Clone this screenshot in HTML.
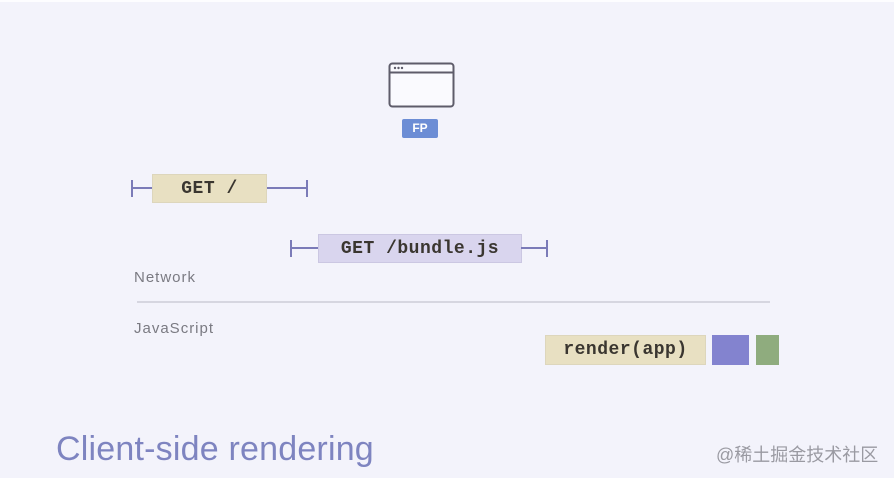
<!DOCTYPE html>
<html>
<head>
<meta charset="utf-8">
<style>
  html,body{margin:0;padding:0;}
  body{width:894px;height:478px;background:#f3f3fb;position:relative;overflow:hidden;font-family:"Liberation Sans",sans-serif;}
  .abs{position:absolute;}
  .box{position:absolute;box-sizing:border-box;font-family:"Liberation Mono",monospace;font-weight:bold;font-size:18px;letter-spacing:0.5px;color:#3a3630;display:flex;align-items:center;justify-content:center;}
  .hl{position:absolute;height:2px;background:#7b7bb8;}
  .vt{position:absolute;width:2px;background:#7b7bb8;}
</style>
</head>
<body>
<div class="abs" style="left:0;top:0;width:894px;height:2px;background:#fdfdff;"></div>

<!-- browser window icon -->
<svg class="abs" style="left:386px;top:60px;" width="72" height="52" viewBox="0 0 72 52">
  <rect x="3.5" y="3.5" width="64" height="43" rx="3" ry="3" fill="#fafafe" stroke="#5e5c6a" stroke-width="2"/>
  <line x1="3.5" y1="12.5" x2="67.5" y2="12.5" stroke="#5e5c6a" stroke-width="2"/>
  <circle cx="9" cy="8" r="1.2" fill="#5e5c6a"/>
  <circle cx="12.5" cy="8" r="1.2" fill="#5e5c6a"/>
  <circle cx="16" cy="8" r="1.2" fill="#5e5c6a"/>
</svg>

<!-- FP badge -->
<div class="abs" style="left:402px;top:119px;width:36px;height:19px;background:#6c8dd5;border-radius:2px;color:#fff;font-weight:bold;font-size:12px;line-height:19px;text-align:center;font-family:'Liberation Sans',sans-serif;">FP</div>

<!-- GET / -->
<div class="vt" style="left:131px;top:180px;height:17px;"></div>
<div class="hl" style="left:132px;top:187px;width:22px;"></div>
<div class="box" style="left:152px;top:174px;width:115px;height:29px;background:#e8e0c2;border:1px solid #ddd6bc;">GET /</div>
<div class="hl" style="left:267px;top:187px;width:40px;"></div>
<div class="vt" style="left:306px;top:180px;height:17px;"></div>

<!-- GET /bundle.js -->
<div class="vt" style="left:290px;top:240px;height:17px;"></div>
<div class="hl" style="left:291px;top:247px;width:28px;"></div>
<div class="box" style="left:318px;top:234px;width:204px;height:29px;background:#d9d5ee;border:1px solid #cbc7e2;">GET /bundle.js</div>
<div class="hl" style="left:521px;top:247px;width:26px;"></div>
<div class="vt" style="left:546px;top:240px;height:17px;"></div>

<!-- labels -->
<div class="abs" style="left:134px;top:269px;font-size:15px;letter-spacing:1px;color:#7a7a82;">Network</div>
<div class="abs" style="left:137px;top:301px;width:633px;height:2px;background:#d6d6e0;"></div>
<div class="abs" style="left:134px;top:320px;font-size:15px;letter-spacing:1px;color:#7a7a82;">JavaScript</div>

<!-- JS row -->
<div class="box" style="left:545px;top:335px;width:161px;height:30px;background:#e8e0c2;border:1px solid #ddd6bc;">render(app)</div>
<div class="abs" style="left:712px;top:335px;width:37px;height:30px;background:#8383cf;"></div>
<div class="abs" style="left:756px;top:335px;width:23px;height:30px;background:#8fac7e;"></div>

<!-- title -->
<div class="abs" style="left:56px;top:429px;font-size:34px;letter-spacing:0.2px;color:#7e84c0;white-space:nowrap;line-height:40px;">Client-side rendering</div>

<!-- watermark -->
<div class="abs" style="left:716px;top:441px;font-size:18px;color:#9a9aa2;white-space:nowrap;font-family:'Liberation Sans','Noto Sans CJK SC',sans-serif;">@稀土掘金技术社区</div>
</body>
</html>
